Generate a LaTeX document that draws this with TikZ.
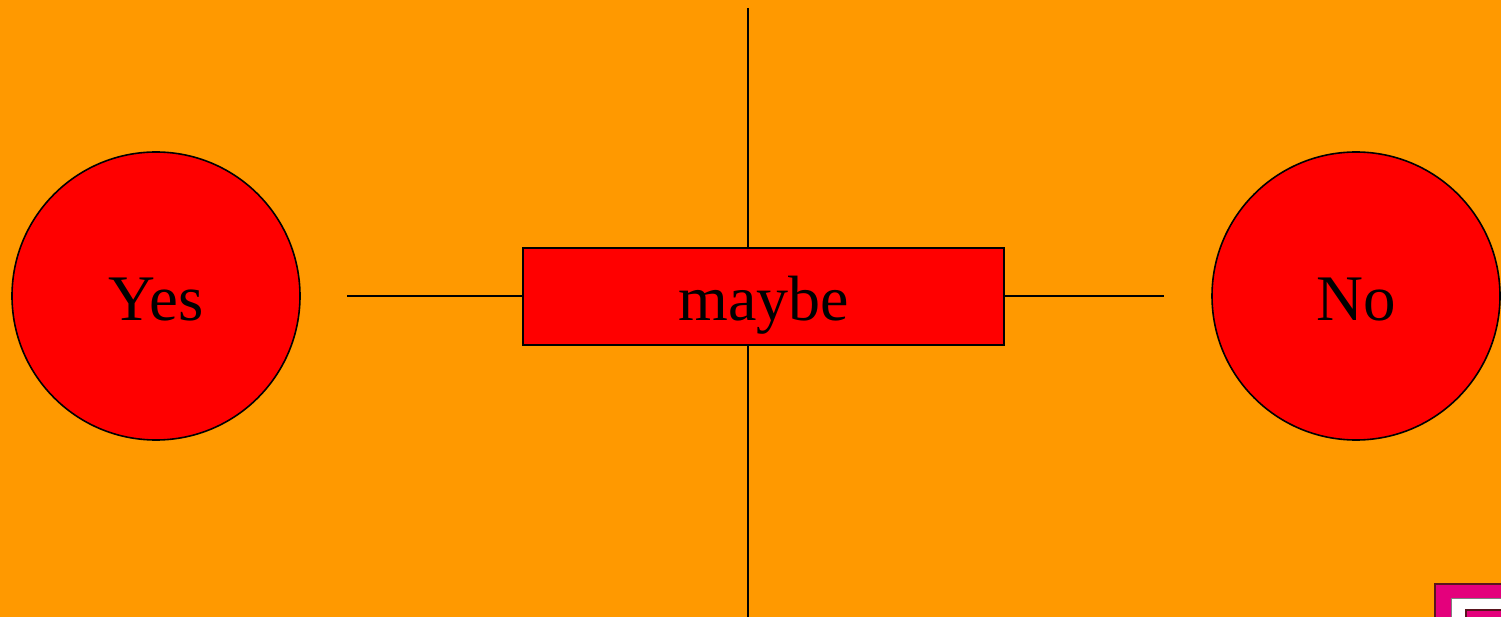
\documentclass[tikz,border=0pt]{standalone}
\usepackage{fontspec}
\setmainfont{Liberation Serif}
\definecolor{bgorange}{RGB}{255,153,0}
\definecolor{logomag}{RGB}{228,0,124}
\definecolor{logodark}{RGB}{90,20,30}
\tikzset{
	answer/.style={circle,draw=black,fill=red,line width=1.6pt,minimum size=288pt,inner sep=0pt,text height=48pt,text depth=0pt,font=\fontsize{65}{78}\selectfont},
	choice/.style={rectangle,draw=black,fill=red,line width=1.6pt,minimum width=481pt,minimum height=97pt,inner sep=0pt,text height=48pt,text depth=0pt,font=\fontsize{64}{78}\selectfont},
	link/.style={line width=1.6pt}
}
\begin{document}
\begin{tikzpicture}[x=1pt,y=-1pt]
	\useasboundingbox (0,0) rectangle (1501,617);
	\fill[bgorange] (0,0) rectangle (1501,617);
	
	\coordinate (top) at (748,8);
	\coordinate (bot) at (748,630);
	\coordinate (lend) at (347,296);
	\coordinate (rend) at (1164,296);
	\draw[link] (top) -- (bot);
	
	\node[choice] (maybe) at (763.5,296.5){maybe};
	\node[answer] (yes) at (156,296){Yes};
	\node[answer] (no) at (1356,296){No};
	
	\draw[link] (lend) -- (maybe.west |- lend);
	\draw[link] (maybe.east |- rend) -- (rend);
	
	% corner mark
	\begin{scope}
		\clip (0,0) rectangle (1501,617);
		\filldraw[fill=logomag,draw=logodark,line width=1.5pt] (1435,584) rectangle (1560,700);
		\filldraw[fill=white,draw=gray,line width=.8pt] (1451,598) rectangle (1560,700);
		\filldraw[fill=logomag,draw=logodark,line width=1.2pt] (1466,610) rectangle (1560,700);
	\end{scope}
\end{tikzpicture}
\end{document}
